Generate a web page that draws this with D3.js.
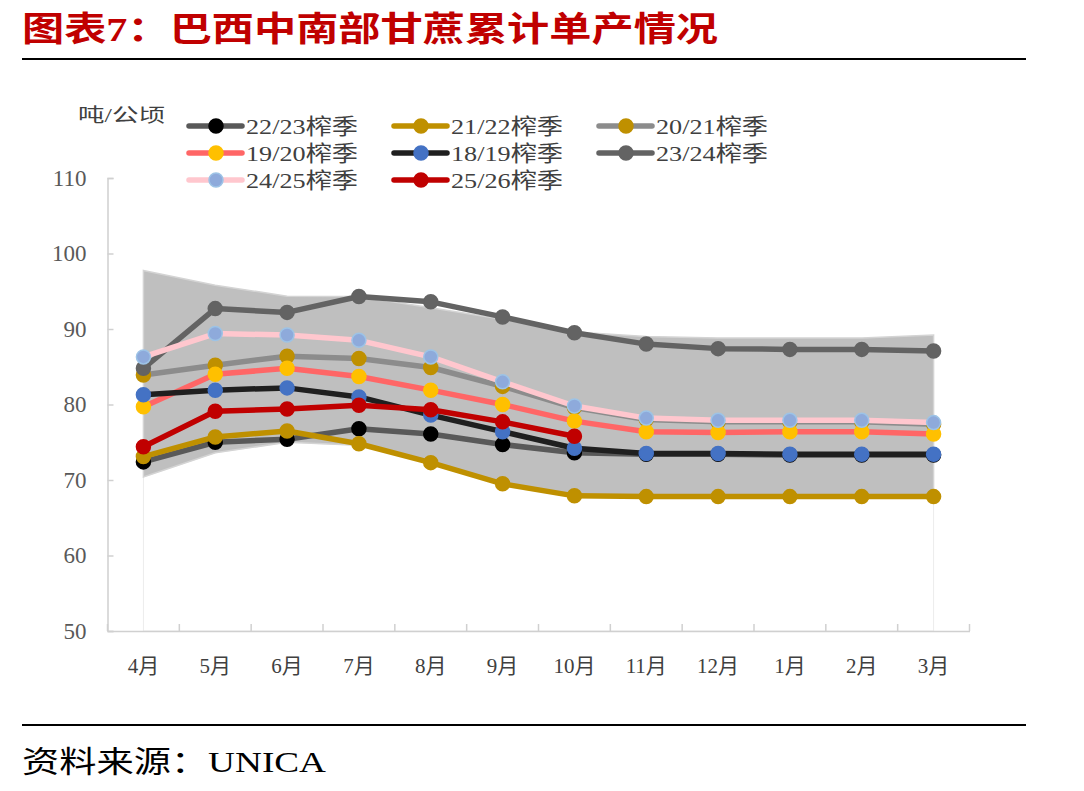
<!DOCTYPE html>
<html>
<head>
<meta charset="utf-8">
<script src="https://cdn.jsdelivr.net/npm/d3@7/dist/d3.min.js"></script>
<style>
  html, body { margin: 0; padding: 0; background: #fff; }
  svg { display: block; }
  text { font-family: "Liberation Serif", "Noto Sans CJK SC", serif; }
</style>
</head>
<body>
<svg id="chart" width="1084" height="791"></svg>
<script>
// ---- data ----
const months = ["4月","5月","6月","7月","8月","9月","10月","11月","12月","1月","2月","3月"];
const yTicks = [50, 60, 70, 80, 90, 100, 110];
const seriesNames = ["22/23榨季","21/22榨季","20/21榨季","19/20榨季","18/19榨季","23/24榨季","24/25榨季","25/26榨季"];
const s2223 = [72.4, 75.0, 75.4, 76.8, 76.1, 74.7, 73.6, 73.4, 73.4, 73.3, 73.3, 73.3];
const s2122 = [73.1, 75.7, 76.5, 74.8, 72.3, 69.5, 67.9, 67.8, 67.8, 67.8, 67.8, 67.8];
const s2021 = [83.9, 85.2, 86.4, 86.1, 84.9, 82.4, 79.6, 78.0, 77.7, 77.7, 77.7, 77.4];
const s1920 = [79.7, 84.0, 84.8, 83.7, 81.9, 80.0, 77.8, 76.4, 76.3, 76.4, 76.4, 76.1];
const s1819 = [81.3, 81.9, 82.2, 81.0, 78.6, 76.4, 74.2, 73.5, 73.5, 73.4, 73.4, 73.4];
const s2324 = [84.8, 92.7, 92.2, 94.3, 93.6, 91.6, 89.5, 88.0, 87.4, 87.3, 87.3, 87.1];
const s2425 = [86.3, 89.4, 89.2, 88.5, 86.3, 83.0, 79.8, 78.2, 77.9, 77.9, 77.9, 77.6];
const s2526 = [74.4, 79.1, 79.4, 79.9, 79.3, 77.7, 75.8];
const rangeMax = [97.75, 95.8, 94.35, 94.3, 92.8, 91.3, 89.6, 89.0, 88.8, 88.8, 88.8, 89.2];
const rangeMin = [70.4, 73.6, 75.0, 74.6, 72.3, 69.5, 67.9, 67.8, 67.8, 67.8, 67.8, 67.8];

const seriesValues = [s2223, s2122, s2021, s1920, s1819, s2324, s2425, s2526];
const styles = [
  {line: "#595959", fill: "#000000", stroke: "#000000"},
  {line: "#bf9000", fill: "#bf9000", stroke: "#bf9000"},
  {line: "#8c8c8c", fill: "#bf9000", stroke: "#bf9000"},
  {line: "#ff6666", fill: "#ffc000", stroke: "#ffc000"},
  {line: "#1f1f1f", fill: "#4472c4", stroke: "#4472c4"},
  {line: "#636363", fill: "#636363", stroke: "#636363"},
  {line: "#ffc7ce", fill: "#8eaadb", stroke: "#9dc3e6"},
  {line: "#c00000", fill: "#c00000", stroke: "#c00000"}
];

const svg = d3.select("#chart");

// ---- title ----
svg.append("text").attr("x", 22).attr("y", 41)
  .attr("font-family", "'Noto Sans CJK SC', sans-serif")
  .attr("font-weight", "bold").attr("font-size", 34).attr("fill", "#c00000")
  .attr("textLength", 696).attr("lengthAdjust", "spacingAndGlyphs")
  .text("图表7：巴西中南部甘蔗累计单产情况");
svg.append("line").attr("x1", 22).attr("x2", 1026).attr("y1", 59).attr("y2", 59)
  .attr("stroke", "#000").attr("stroke-width", 2);
svg.append("line").attr("x1", 22).attr("x2", 1026).attr("y1", 725).attr("y2", 725)
  .attr("stroke", "#000").attr("stroke-width", 2);
svg.append("text").attr("x", 22).attr("y", 772)
  .attr("font-size", 30).attr("fill", "#000")
  .attr("textLength", 304).attr("lengthAdjust", "spacingAndGlyphs")
  .text("资料来源：UNICA");

// ---- scales ----
const x = d3.scaleBand().domain(months).range([107.5, 969.5]).paddingInner(0).paddingOuter(0);
const cx = m => x(m) + x.bandwidth() / 2;
const y = d3.scaleLinear().domain([50, 110]).range([631, 178]);

// ---- range area ----
const areaData = months.map((m, i) => ({m, lo: rangeMin[i], hi: rangeMax[i]}));
svg.append("path").datum(areaData)
  .attr("fill", "#ffffff").attr("stroke", "#ececec").attr("stroke-width", 1)
  .attr("d", d3.area().x(d => cx(d.m)).y0(y(50)).y1(d => y(d.lo)));
svg.append("path").datum(areaData)
  .attr("fill", "#bfbfbf").attr("stroke", "#d4d4d4").attr("stroke-width", 1.5)
  .attr("d", d3.area().x(d => cx(d.m)).y0(d => y(d.lo)).y1(d => y(d.hi)));

// ---- axes ----
const yAxis = svg.append("g").attr("transform", "translate(107.5,0)")
  .call(d3.axisLeft(y).tickValues(yTicks).tickSize(-6).tickPadding(21).tickFormat(d3.format("d")));
yAxis.select(".domain").attr("stroke", "#d0d0d0").attr("stroke-width", 1.5);
yAxis.selectAll(".tick line").attr("stroke", "#d0d0d0").attr("stroke-width", 1.5);
yAxis.selectAll(".tick text").attr("font-size", 23).attr("fill", "#595959")
  .attr("font-family", "'Liberation Serif', serif");

const xAxis = svg.append("g").attr("transform", "translate(0,631)")
  .call(d3.axisBottom(x).tickSize(0).tickPadding(27));
xAxis.select(".domain").attr("stroke", "#d0d0d0").attr("stroke-width", 1.5);
xAxis.selectAll(".tick text").attr("font-size", 21).attr("fill", "#404040");
const bounds = months.map(m => x(m)).concat([x.range()[1]]);
xAxis.selectAll("line.bt").data(bounds).enter().append("line").attr("class", "bt")
  .attr("x1", d => d).attr("x2", d => d).attr("y1", 0).attr("y2", -7)
  .attr("stroke", "#d0d0d0").attr("stroke-width", 1.5);

// unit label
svg.append("text").attr("x", 78).attr("y", 122).attr("font-size", 19).attr("fill", "#404040")
  .attr("textLength", 87).attr("lengthAdjust", "spacingAndGlyphs")
  .text("吨/公顷");

// ---- series ----
const line = d3.line().x(d => cx(d.m)).y(d => y(d.v));
seriesValues.forEach((vals, i) => {
  const data = vals.map((v, j) => ({m: months[j], v}));
  const st = styles[i];
  const g = svg.append("g");
  g.append("path").datum(data).attr("fill", "none").attr("stroke", st.line)
    .attr("stroke-width", 5.5).attr("stroke-linejoin", "round").attr("d", line);
  g.selectAll("circle").data(data).enter().append("circle")
    .attr("cx", d => cx(d.m)).attr("cy", d => y(d.v)).attr("r", 7)
    .attr("fill", st.fill).attr("stroke", st.stroke).attr("stroke-width", 1.5);
});

// ---- legend ----
const legX = [246, 451, 656];
const legY = [126, 153, 180];
seriesNames.forEach((name, i) => {
  const col = i % 3, row = Math.floor(i / 3);
  const tx = legX[col], ty = legY[row];
  const st = styles[i];
  const g = svg.append("g");
  g.append("line").attr("x1", tx - 57).attr("x2", tx - 4).attr("y1", ty).attr("y2", ty)
    .attr("stroke", st.line).attr("stroke-width", 5.5).attr("stroke-linecap", "round");
  g.append("circle").attr("cx", tx - 30).attr("cy", ty).attr("r", 7)
    .attr("fill", st.fill).attr("stroke", st.stroke).attr("stroke-width", 1.5);
  g.append("text").attr("x", tx).attr("y", ty + 8).attr("font-size", 22).attr("fill", "#404040")
    .attr("textLength", 112).attr("lengthAdjust", "spacingAndGlyphs")
    .text(name);
});
</script>
</body>
</html>
